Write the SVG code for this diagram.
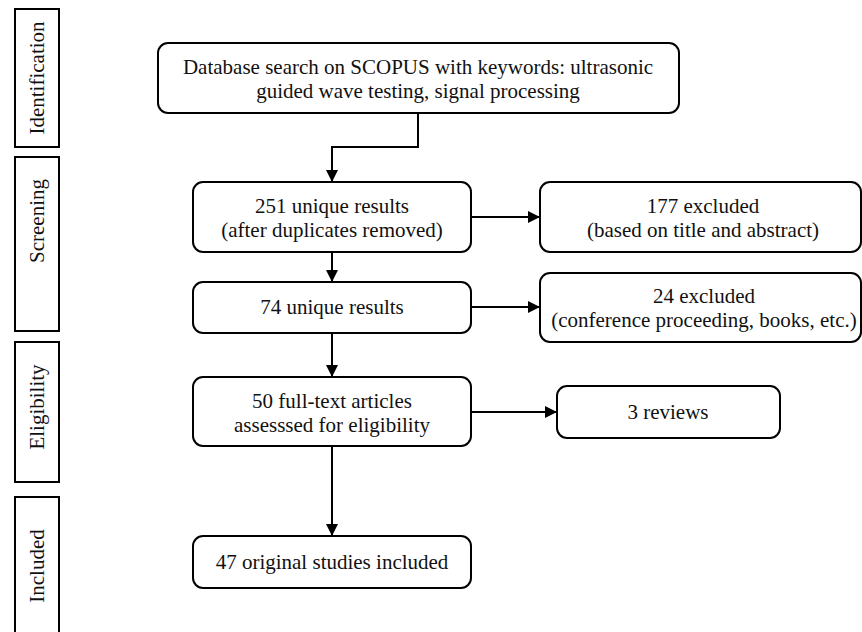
<svg xmlns="http://www.w3.org/2000/svg" width="862" height="632" viewBox="0 0 862 632" font-family="'Liberation Serif', 'Times New Roman', Tinos, 'DejaVu Serif', serif">
<style>
.box{fill:#fff;stroke:#000;stroke-width:2}
.side{fill:#fff;stroke:#000;stroke-width:2}
.t{font-family:'Liberation Serif', 'Times New Roman', Tinos, serif;font-size:21px;fill:#111;text-anchor:middle}
.c{fill:none;stroke:#000;stroke-width:2}
</style>
<defs>
<marker id="ah" viewBox="0 0 10 10" refX="10" refY="5" markerWidth="6" markerHeight="6" markerUnits="strokeWidth" orient="auto">
<path d="M0,0 L10,5 L0,10 z" fill="#000"/>
</marker>
</defs>
<rect width="862" height="632" fill="#fff"/>
<g id="stages">
<g id="stage-identification"><rect class="side" x="15" y="9" width="44" height="138"/><text class="t" font-family="Liberation Serif" transform="translate(37,78) rotate(-90)" dominant-baseline="central">Identification</text></g>
<g id="stage-screening"><rect class="side" x="15" y="157" width="44" height="174"/><text class="t" font-family="Liberation Serif" transform="translate(37,221) rotate(-90)" dominant-baseline="central">Screening</text></g>
<g id="stage-eligibility"><rect class="side" x="15" y="342" width="44" height="140"/><text class="t" font-family="Liberation Serif" transform="translate(37,407) rotate(-90)" dominant-baseline="central">Eligibility</text></g>
<g id="stage-included"><rect class="side" x="15" y="497" width="44" height="145"/><text class="t" font-family="Liberation Serif" transform="translate(37,566) rotate(-90)" dominant-baseline="central">Included</text></g>
</g>
<g id="connectors">
<path class="c" d="M418,113 V147 H332 V182" marker-end="url(#ah)"/>
<path class="c" d="M332,252 V282" marker-end="url(#ah)"/>
<path class="c" d="M332,333 V377" marker-end="url(#ah)"/>
<path class="c" d="M332,446 V536" marker-end="url(#ah)"/>
<path class="c" d="M471,217 H540" marker-end="url(#ah)"/>
<path class="c" d="M471,307 H540" marker-end="url(#ah)"/>
<path class="c" d="M471,412 H557" marker-end="url(#ah)"/>
</g>
<g id="n-search"><rect class="box" x="158" y="43" width="521" height="70" rx="10"/><text class="t" x="418" y="74">Database search on SCOPUS with keywords: ultrasonic</text><text class="t" x="418" y="98">guided wave testing, signal processing</text></g>
<g id="n-251"><rect class="box" x="193" y="182" width="278" height="70" rx="10"/><text class="t" x="332" y="213">251 unique results</text><text class="t" x="332" y="237">(after duplicates removed)</text></g>
<g id="n-177"><rect class="box" x="540" y="182" width="321" height="70" rx="10"/><text class="t" x="703" y="213">177 excluded</text><text class="t" x="703" y="237">(based on title and abstract)</text></g>
<g id="n-74"><rect class="box" x="193" y="282" width="278" height="51" rx="10"/><text class="t" x="332" y="314">74 unique results</text></g>
<g id="n-24"><rect class="box" x="540" y="273" width="321" height="69" rx="10"/><text class="t" x="704" y="303">24 excluded</text><text class="t" x="704" y="327">(conference proceeding, books, etc.)</text></g>
<g id="n-50"><rect class="box" x="193" y="377" width="278" height="69" rx="10"/><text class="t" x="332" y="408">50 full-text articles</text><text class="t" x="332" y="432">assesssed for eligibility</text></g>
<g id="n-3"><rect class="box" x="557" y="386" width="223" height="52" rx="10"/><text class="t" x="668" y="419">3 reviews</text></g>
<g id="n-47"><rect class="box" x="193" y="536" width="278" height="52" rx="10"/><text class="t" x="332" y="569">47 original studies included</text></g>
</svg>
